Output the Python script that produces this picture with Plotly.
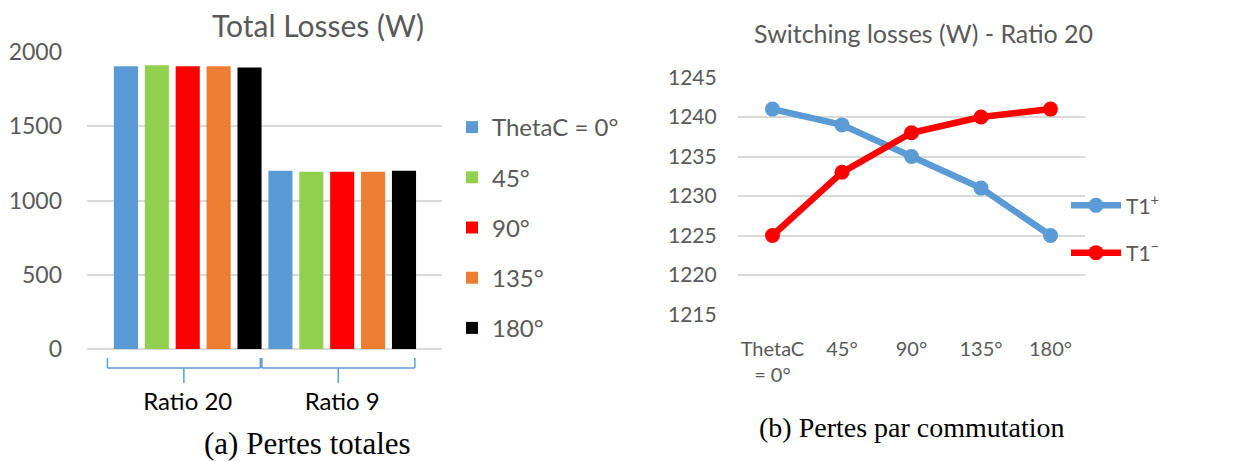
import plotly.graph_objects as go

# ---------------- data ----------------
groups = ["Ratio 20", "Ratio 9"]
angle_names = ["ThetaC = 0°", "45°", "90°", "135°", "180°"]
total_losses = {
    "ThetaC = 0°": [1904, 1200],
    "45°": [1911, 1193],
    "90°": [1904, 1193],
    "135°": [1904, 1193],
    "180°": [1895, 1200],
}
bar_colors = ["#5B9BD5", "#92D050", "#FF0000", "#ED7D31", "#000000"]

angle_labels = ["ThetaC<br>= 0°", "45°", "90°", "135°", "180°"]
t1_plus = [1241, 1239, 1235, 1231, 1225]
t1_minus = [1225, 1233, 1238, 1240, 1241]

# page body has an 8px default margin -> figure is drawn 8px in from the window corner
OFF = 8
FW, FH = 1254 - OFF, 461 - OFF


def px(x):
    return (x - OFF) / FW


def py(y):
    return (FH - (y - OFF)) / FH


GRAY = "#595959"
GRID = "#D9D9D9"
FONT = "Lato"

fig = go.Figure()

for i, name in enumerate(angle_names):
    fig.add_trace(go.Bar(
        x=groups, y=total_losses[name], name=name,
        marker=dict(color=bar_colors[i], line=dict(width=0)),
        xaxis="x", yaxis="y", legend="legend", legendgroup=name,
    ))

fig.add_trace(go.Scatter(
    x=angle_labels, y=t1_plus, name="T1<sup>+</sup>", mode="lines+markers",
    line=dict(color="#5B9BD5", width=6.5), marker=dict(size=15, color="#5B9BD5"),
    xaxis="x2", yaxis="y2", legend="legend2", legendgroup="p",
))
fig.add_trace(go.Scatter(
    x=angle_labels, y=t1_minus, name="T1<sup>−</sup>", mode="lines+markers",
    line=dict(color="#FF0000", width=6.5), marker=dict(size=15, color="#FF0000"),
    xaxis="x2", yaxis="y2", legend="legend2", legendgroup="m",
))

# bracket shapes under the category axis (left chart)
shapes = []
for i in range(len(groups)):
    l, r, c = i - 0.52, i + 0.47, i - 0.025
    ylo, ymid, yhi = py(383), py(368), py(358)
    for (x0, y0, x1, y1) in [(l, ymid, r, ymid), (l, ymid, l, yhi), (r, ymid, r, yhi), (c, ymid, c, ylo)]:
        shapes.append(dict(type="line", xref="x", yref="paper", x0=x0, x1=x1, y0=y0, y1=y1,
                           line=dict(color="#5B9BD5", width=1.5)))

fig.update_layout(
    width=FW, height=FH,
    margin=dict(l=0, r=0, t=0, b=0, autoexpand=False),
    paper_bgcolor="white", plot_bgcolor="white",
    font=dict(family=FONT, color=GRAY),
    bargap=0.0, bargroupgap=0.22, barmode="group",
    xaxis=dict(domain=[px(87), px(442)], anchor="y", type="category", automargin=False,
               range=[-0.652, 1.646], showgrid=False, zeroline=False, showline=False,
               ticks="", tickfont=dict(size=24, color="#000000"), ticklabelstandoff=36),
    yaxis=dict(domain=[py(349), py(52)], anchor="x", automargin=False,
               range=[0, 2000], tickvals=[0, 500, 1000, 1500, 2000],
               showgrid=True, gridcolor=GRID, gridwidth=2, zeroline=True, zerolinecolor=GRID,
               zerolinewidth=2, showline=False, ticks="",
               tickfont=dict(size=23, color=GRAY), ticklabelstandoff=24),
    xaxis2=dict(domain=[px(737.7), px(1085.3)], anchor="y2", type="category", automargin=False,
                range=[-0.5, 4.5], showgrid=False, zeroline=False, showline=False, ticks="",
                tickfont=dict(size=20, color=GRAY), ticklabelstandoff=20),
    yaxis2=dict(domain=[py(315.3), py(76.7)], anchor="x2", automargin=False,
                range=[1214.9, 1245.1], tickvals=[1215, 1220, 1225, 1230, 1235, 1240, 1245],
                showgrid=True, gridcolor=GRID, gridwidth=2, zeroline=False, showline=False,
                ticks="", tickfont=dict(size=21, color=GRAY), ticklabelstandoff=20),
    legend=dict(x=px(452), xanchor="left", y=py(227.5), yanchor="middle",
                bgcolor="rgba(0,0,0,0)", font=dict(size=24, color=GRAY),
                tracegroupgap=16, itemclick=False),
    legend2=dict(x=px(1066), xanchor="left", y=py(229.2), yanchor="middle",
                 bgcolor="rgba(0,0,0,0)", font=dict(size=21, color=GRAY),
                 tracegroupgap=17, itemwidth=50),
    shapes=shapes,
    annotations=[
        dict(text="Total Losses (W)", x=px(318), y=py(25), xref="paper", yref="paper",
             showarrow=False, xanchor="center", yanchor="middle",
             font=dict(size=30, color=GRAY, family=FONT)),
        dict(text="Switching losses (W) - Ratio 20", x=px(923), y=py(33),
             xref="paper", yref="paper", showarrow=False, xanchor="center", yanchor="middle",
             font=dict(size=25, color=GRAY, family=FONT)),
        dict(text="(a) Pertes totales", x=px(307), y=py(443), xref="paper", yref="paper",
             showarrow=False, xanchor="center", yanchor="middle",
             font=dict(size=31, color="#000000", family="Liberation Serif")),
        dict(text="(b) Pertes par commutation", x=px(912), y=py(427),
             xref="paper", yref="paper", showarrow=False, xanchor="center", yanchor="middle",
             font=dict(size=28, color="#000000", family="Liberation Serif")),
    ],
)

fig.write_html("out.html")
